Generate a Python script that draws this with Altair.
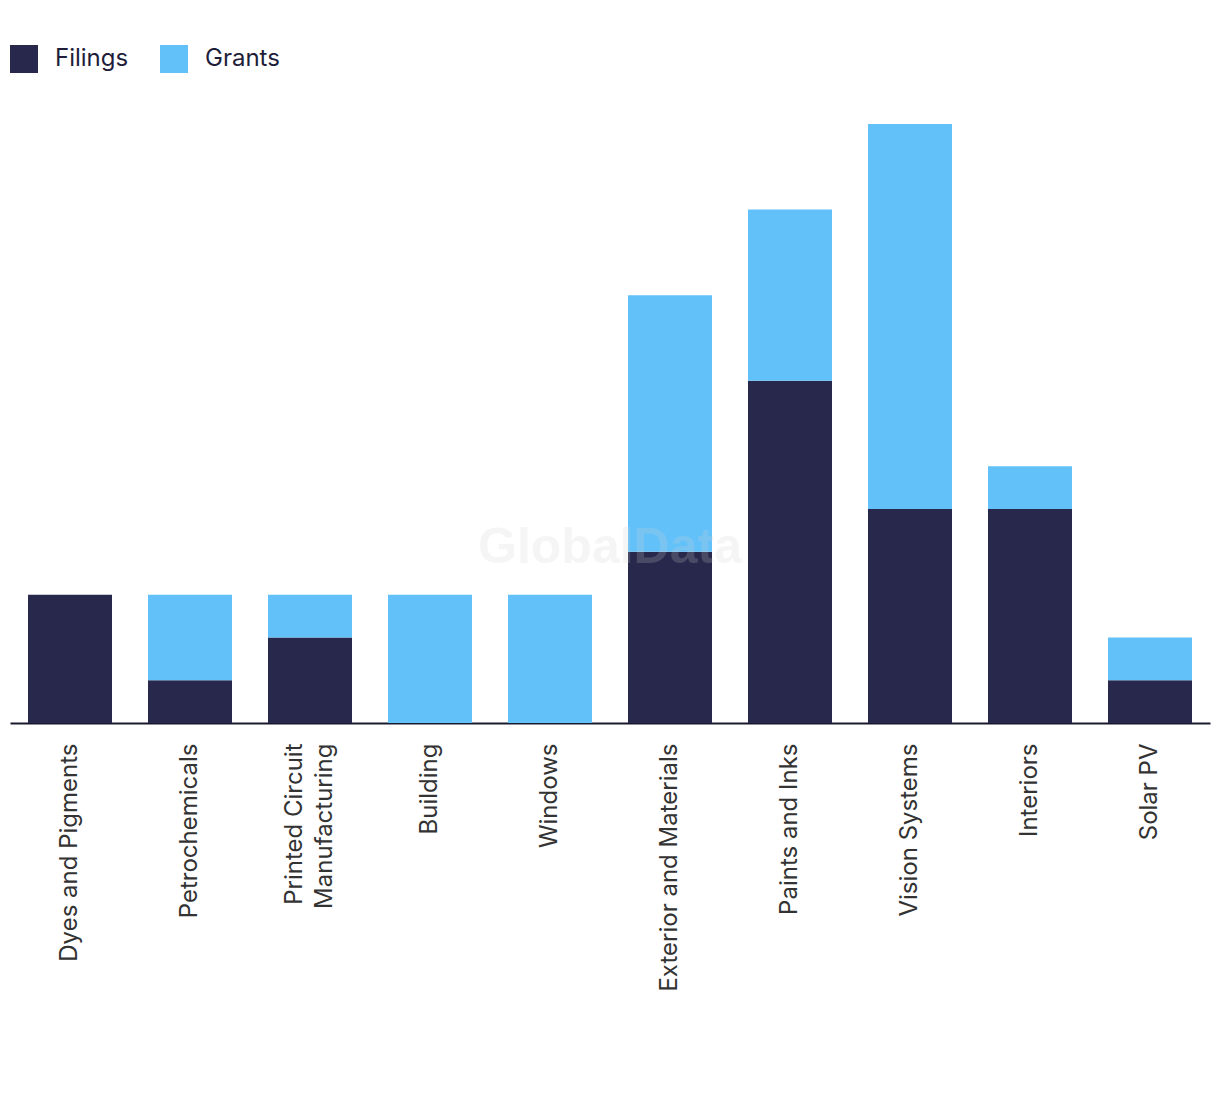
import altair as alt
import pandas as pd

categories = ["Dyes and Pigments", "Petrochemicals", "Printed Circuit Manufacturing",
              "Building", "Windows", "Exterior and Materials", "Paints and Inks",
              "Vision Systems", "Interiors", "Solar PV"]
filings = [3, 1, 2, 0, 0, 4, 8, 5, 5, 1]
grants = [0, 2, 1, 3, 3, 6, 4, 9, 1, 1]
series = ["Filings", "Grants"]
colors = ["#27284b", "#63c1f9"]

rows = []
for c, f, g in zip(categories, filings, grants):
    rows.append({"category": c, "series": "Filings", "value": f, "ord": 0})
    rows.append({"category": c, "series": "Grants", "value": g, "ord": 1})
df = pd.DataFrame(rows)

label_expr = ("datum.value == 'Printed Circuit Manufacturing' ? "
              "['Printed Circuit', 'Manufacturing'] : datum.value")
two_line = "datum.value == 'Printed Circuit Manufacturing'"

bars = alt.Chart(df).mark_bar().encode(
    x=alt.X("category:N", sort=categories, title=None,
            scale=alt.Scale(paddingInner=0.3, paddingOuter=0.15),
            axis=alt.Axis(labelAngle=-90, labelAlign="right", labelBaseline="middle",
                          labelPadding=20, labelFontSize=24, labelFont="Inter",
                          labelColor="#333333", labelLineHeight=30,
                          labelOffset={"condition": {"test": two_line, "value": -15}, "value": 0},
                          labelExpr=label_expr, ticks=False, domainColor="#1a1a2e",
                          domainWidth=2, labelLimit=400)),
    y=alt.Y("value:Q", stack="zero", title=None,
            scale=alt.Scale(domain=[0, 14], nice=False), axis=None),
    color=alt.Color("series:N", scale=alt.Scale(domain=series, range=colors),
                    legend=alt.Legend(title=None, orient="none", legendX=0, legendY=-79,
                                      direction="horizontal", symbolType="square",
                                      symbolSize=784, symbolStrokeWidth=0,
                                      symbolOpacity=1, labelFontSize=24,
                                      labelFont="Inter", labelColor="#1e1e3a",
                                      labelOffset=17, columnPadding=31)),
    order=alt.Order("ord:Q", sort="ascending"),
)

watermark = alt.Chart(pd.DataFrame({"t": ["GlobalData"]})).mark_text(
    font="Liberation Sans", fontWeight="bold", fontSize=50, color="#d2d2d2",
    opacity=0.2, align="center", baseline="middle"
).encode(x=alt.value(600), y=alt.value(424), text="t:N")

chart = alt.layer(bars, watermark).properties(
    width=1200, height=599,
    autosize=alt.AutoSizeParams(type="none"),
    padding={"left": 2, "top": 116, "right": 2, "bottom": 360},
).configure_view(stroke=None)

chart.save("out.html", embed_options={"renderer": "svg", "actions": False})
